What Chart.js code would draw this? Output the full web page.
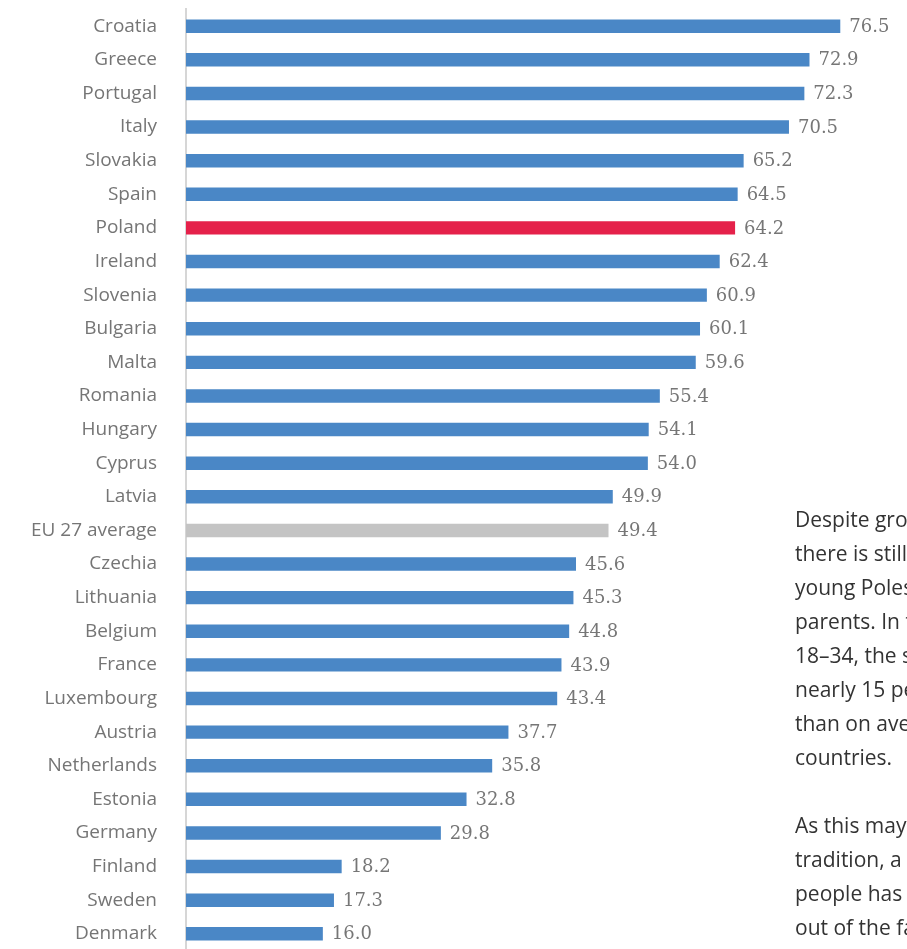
<!DOCTYPE html>
<html lang="en">
<head>
  <meta charset="UTF-8">
  <title>Young adults living with parents</title>
  <script src="https://cdn.jsdelivr.net/npm/chart.js"></script>
  <style>
    html, body { margin: 0; padding: 0; background: #fff; overflow: hidden; width: 907px; height: 949px; }
    #wrap { position: absolute; left: 0; top: -31px; width: 907px; height: 1022px; }
    #note { position: absolute; left: 795px; top: 502px; font-family: 'Open Sans', sans-serif; font-size: 21px;
            line-height: 34px; color: #333; white-space: nowrap; }
  </style>
</head>
<body>
<div id="wrap"><canvas id="grafica"></canvas></div>
<div id="note">
  Despite growing prosperity,<br>
  there is still a large share of<br>
  young Poles living with their<br>
  parents. In the age group<br>
  18–34, the share is higher by<br>
  nearly 15 percentage points<br>
  than on average in EU<br>
  countries.<br>
  <br>
  As this may reflect a cultural<br>
  tradition, a growing share of<br>
  people has decided to move<br>
  out of the family home.
</div>

<script>
const paises = ["Croatia", "Greece", "Portugal", "Italy", "Slovakia", "Spain", "Poland", "Ireland", "Slovenia",
  "Bulgaria", "Malta", "Romania", "Hungary", "Cyprus", "Latvia", "EU 27 average", "Czechia", "Lithuania",
  "Belgium", "France", "Luxembourg", "Austria", "Netherlands", "Estonia", "Germany", "Finland", "Sweden", "Denmark"];
const valores = [76.5, 72.9, 72.3, 70.5, 65.2, 64.5, 64.2, 62.4, 60.9, 60.1, 59.6, 55.4, 54.1, 54.0, 49.9, 49.4,
  45.6, 45.3, 44.8, 43.9, 43.4, 37.7, 35.8, 32.8, 29.8, 18.2, 17.3, 16.0];

const AZUL = "#4a87c6", ROJO = "#e5214a", GRIS = "#c4c4c4";
const colores = paises.map(p => p === "Poland" ? ROJO : (p === "EU 27 average" ? GRIS : AZUL));

// etiquetas de valor a la derecha de cada barra
const etiquetas = {
  id: "etiquetas",
  afterDatasetsDraw(chart) {
    const ctx = chart.ctx;
    const meta = chart.getDatasetMeta(0);
    ctx.save();
    ctx.font = "18px 'DejaVu Serif', serif";
    ctx.fillStyle = "#767676";
    ctx.textBaseline = "middle";
    meta.data.forEach((bar, i) => {
      ctx.fillText(valores[i].toFixed(1), bar.x + 9, bar.y + 1);
    });
    ctx.restore();
  }
};

new Chart(document.getElementById("grafica"), {
  type: "bar",
  data: {
    labels: paises,
    datasets: [{ data: valores, backgroundColor: colores, barPercentage: 0.8, categoryPercentage: 0.5 }]
  },
  options: {
    indexAxis: "y",
    responsive: true,
    maintainAspectRatio: false,
    animation: false,
    layout: { padding: { top: 8, right: 0, bottom: 0, left: 0 } },
    plugins: { legend: { display: false }, tooltip: { enabled: false } },
    scales: {
      x: { min: 0, max: 84.3, display: false },
      y: {
        afterFit(axis) { axis.width = 186; },
        grid: { display: false, drawTicks: false },
        border: { display: true, color: "#d6d6d6", width: 2 },
        ticks: { color: "#757575", padding: 29, font: { family: "'Open Sans', sans-serif", size: 19 } }
      }
    }
  },
  plugins: [etiquetas]
});
</script>
</body>
</html>
